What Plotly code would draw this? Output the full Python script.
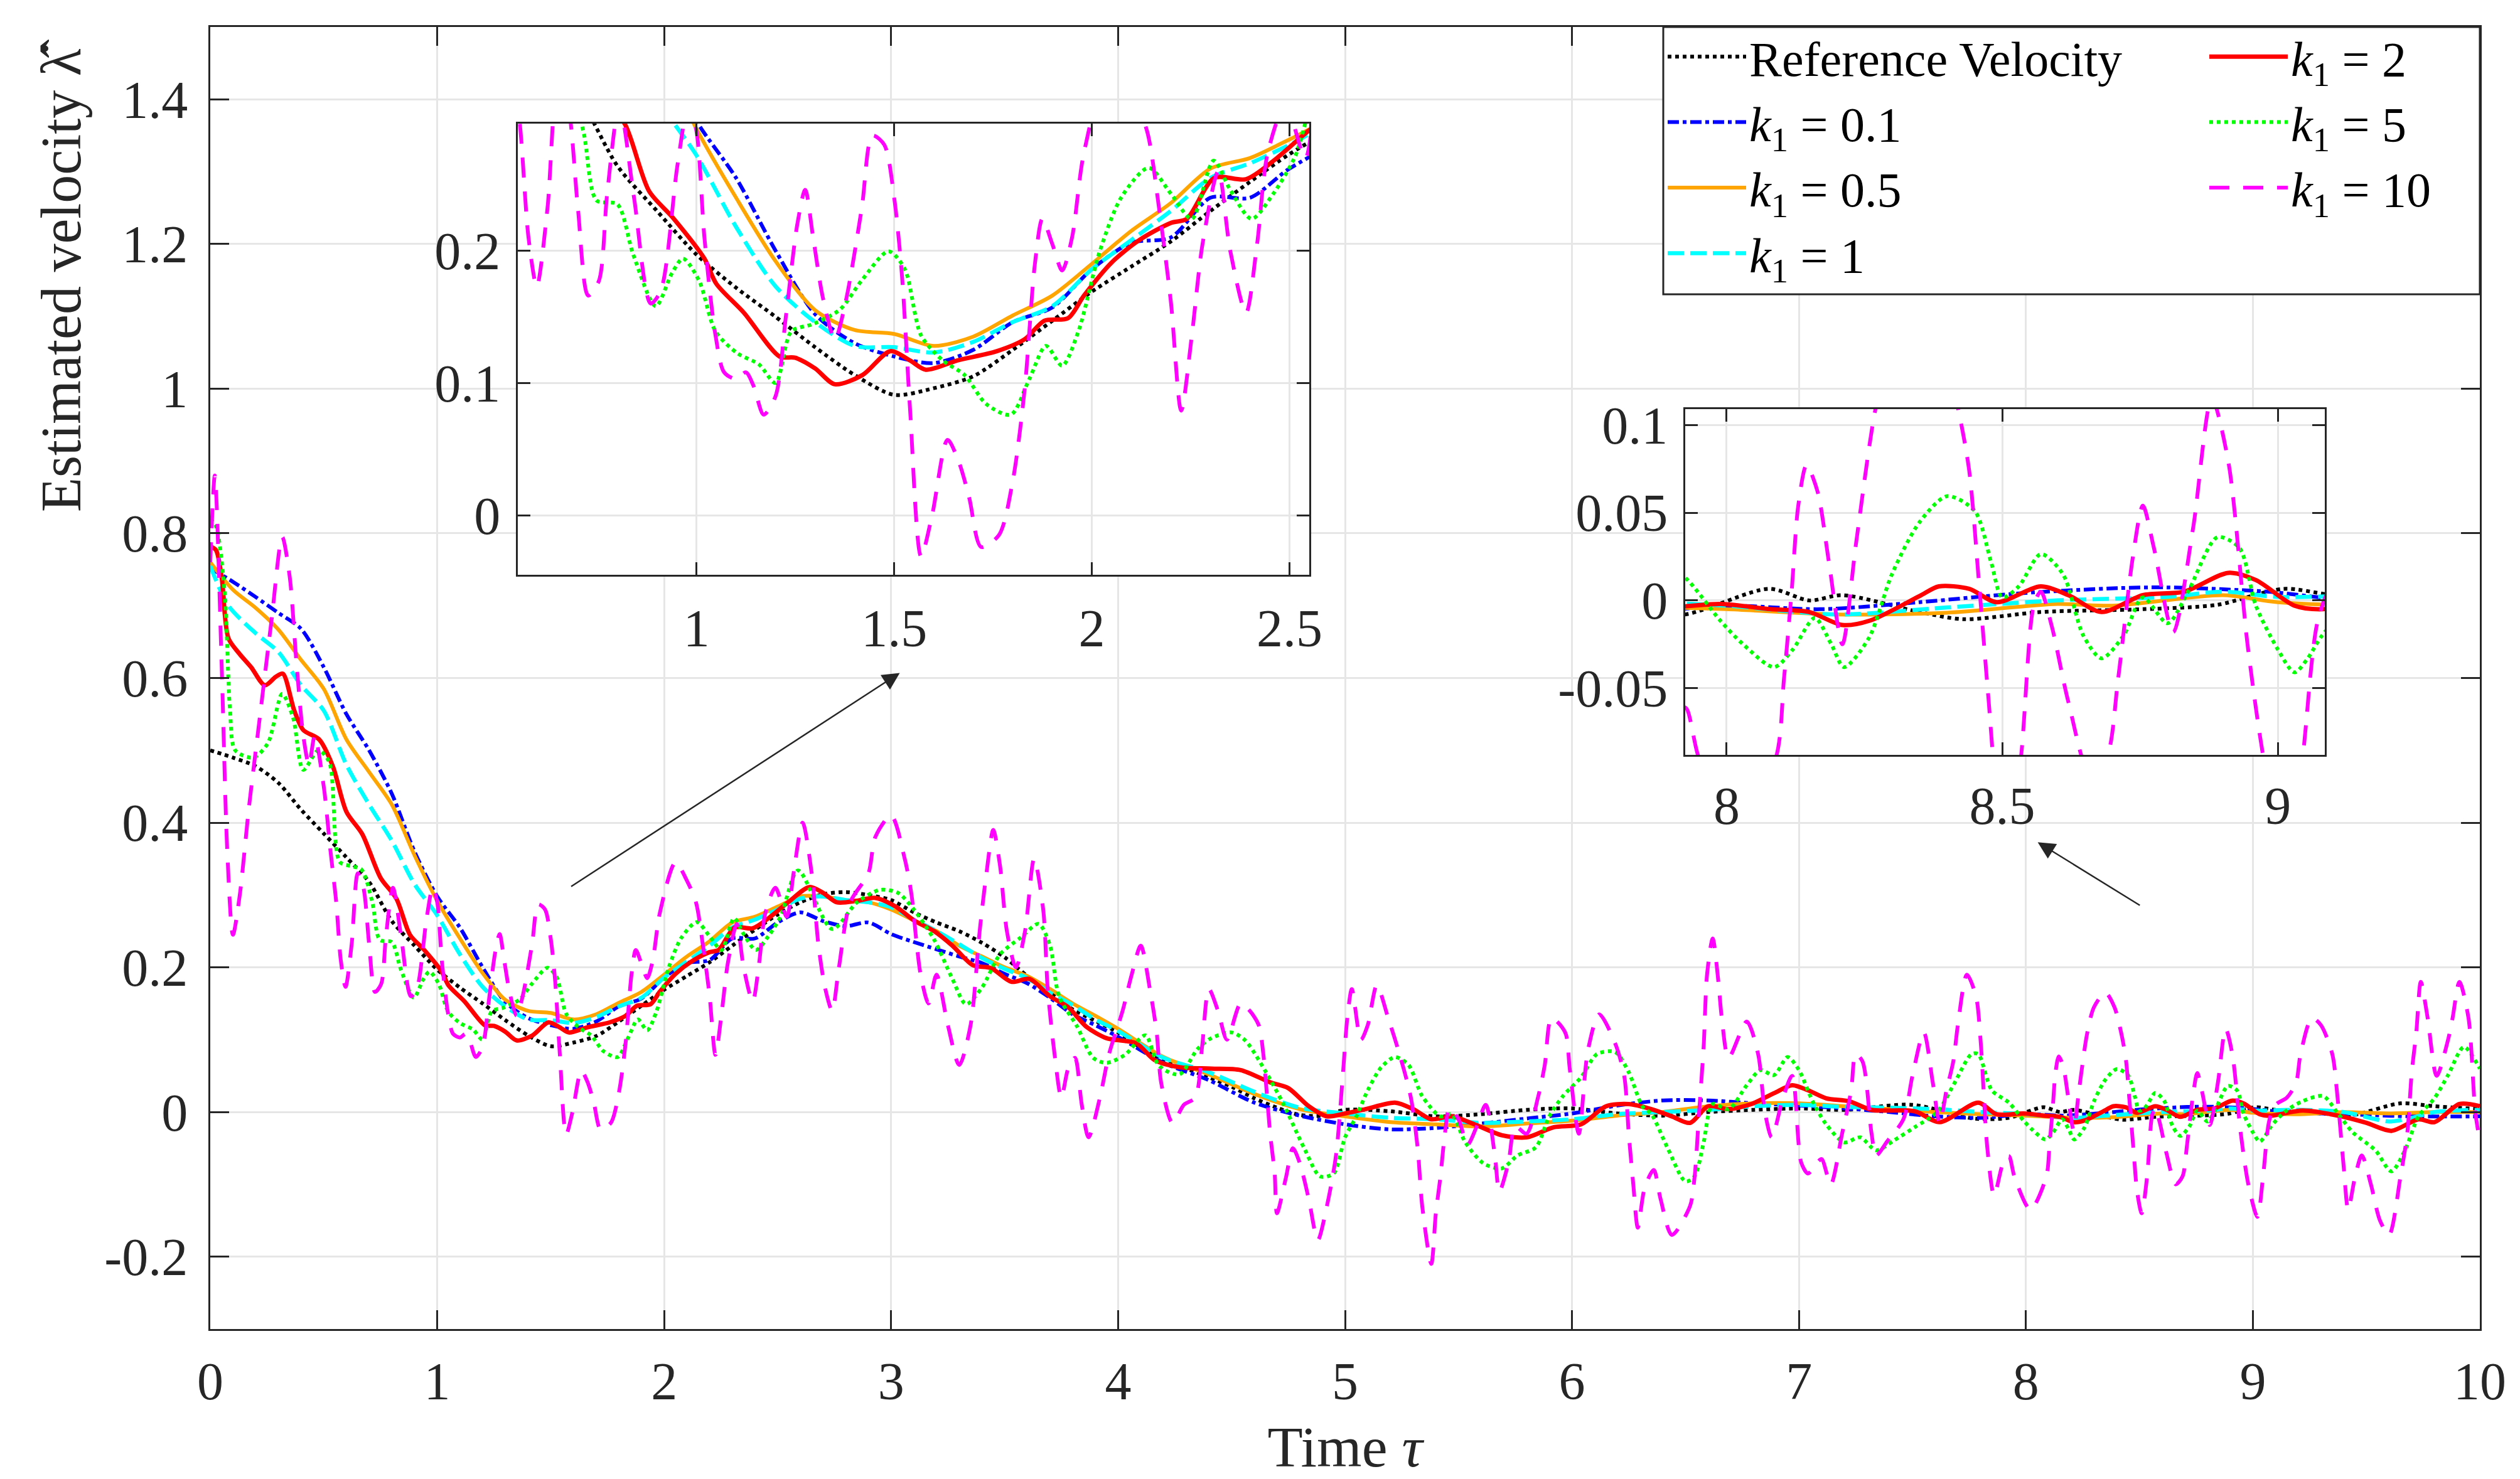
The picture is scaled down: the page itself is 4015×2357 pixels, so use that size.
import plotly.graph_objects as go

# ---------------- data (time, value) ----------------
REF = [(0.0,0.500),(0.1,0.490),(0.2,0.478),(0.3,0.455),(0.4,0.418),(0.5,0.385),(0.6,0.352),(0.7,0.318),
       (0.8,0.264),(0.9,0.230),(1.0,0.197),(1.1,0.172),(1.2,0.150),(1.3,0.127),(1.4,0.106),(1.5,0.091),
       (1.6,0.096),(1.7,0.105),(1.8,0.125),(1.9,0.147),(2.0,0.169),(2.1,0.188),(2.2,0.207),(2.3,0.230),
       (2.4,0.252),(2.5,0.273),(2.6,0.290),(2.7,0.301),(2.8,0.304),(2.9,0.300),(3.0,0.293),(3.1,0.276),
       (3.2,0.262),(3.3,0.250),(3.4,0.234),(3.5,0.214),(3.6,0.188),(3.7,0.165),(3.8,0.142),(3.9,0.126),
       (4.0,0.110),(4.1,0.089),(4.2,0.071),(4.3,0.060),(4.4,0.048),(4.5,0.035),(4.6,0.019),(4.7,0.006),
       (4.8,-0.004),(4.9,-0.005),(5.0,0.003),(5.2,0.001),(5.4,-0.006),(5.6,-0.003),(5.8,0.003),(6.0,0.005),
       (6.2,-0.002),(6.4,-0.005),(6.6,0.000),(6.8,0.003),(7.0,0.005),(7.2,0.003),(7.5,0.010),(7.77,-0.009),
       (7.925,-0.008),(8.077,0.0066),(8.15,0.000),(8.21,0.003),(8.35,-0.0066),(8.43,-0.0107),(8.57,-0.0066),
       (8.755,-0.005),(8.89,-0.0025),(9.01,0.0066),(9.1,0.003),(9.3,-0.002),(9.44,-0.004),(9.65,0.012),
       (9.8,0.008),(10.0,0.004)]

K01 = [(0.0,0.752),(0.1,0.733),(0.2,0.712),(0.3,0.690),(0.4,0.668),(0.5,0.615),(0.6,0.550),(0.7,0.500),
       (0.8,0.440),(0.9,0.360),(1.0,0.298),(1.1,0.255),(1.2,0.200),(1.3,0.152),(1.4,0.130),(1.5,0.120),
       (1.6,0.115),(1.7,0.125),(1.8,0.146),(1.9,0.157),(2.0,0.186),(2.1,0.206),(2.2,0.210),(2.3,0.240),
       (2.4,0.240),(2.5,0.262),(2.6,0.276),(2.7,0.264),(2.8,0.257),(2.9,0.262),(3.0,0.246),(3.1,0.235),
       (3.2,0.225),(3.3,0.215),(3.4,0.206),(3.5,0.191),(3.6,0.178),(3.7,0.158),(3.8,0.135),(3.9,0.120),
       (4.0,0.104),(4.2,0.068),(4.4,0.044),(4.6,0.013),(4.8,-0.005),(5.0,-0.017),(5.2,-0.024),(5.4,-0.022),
       (5.6,-0.016),(5.8,-0.009),(6.0,-0.002),(6.2,0.009),(6.4,0.016),(6.6,0.016),(6.8,0.012),(7.0,0.009),
       (7.2,0.005),(7.4,0.000),(7.6,-0.006),(7.8,-0.008),(8.0,-0.003),(8.17,-0.005),(8.35,-0.001),
       (8.53,0.004),(8.71,0.007),(8.8,0.0074),(8.98,0.005),(9.1,0.001),(9.3,-0.002),(9.5,-0.004),
       (9.7,-0.006),(10.0,-0.006)]

K05 = [(0.0,0.760),(0.1,0.722),(0.2,0.697),(0.3,0.667),(0.4,0.625),(0.5,0.585),(0.6,0.515),(0.7,0.470),
       (0.8,0.425),(0.9,0.355),(1.0,0.292),(1.1,0.240),(1.2,0.192),(1.3,0.155),(1.4,0.140),(1.5,0.137),
       (1.6,0.128),(1.7,0.135),(1.8,0.151),(1.9,0.166),(2.0,0.190),(2.1,0.215),(2.2,0.236),(2.3,0.262),
       (2.4,0.270),(2.5,0.284),(2.6,0.298),(2.7,0.298),(2.8,0.293),(2.9,0.290),(3.0,0.280),(3.1,0.265),
       (3.2,0.250),(3.3,0.230),(3.4,0.215),(3.5,0.200),(3.6,0.188),(3.7,0.170),(3.8,0.150),(3.9,0.133),
       (4.0,0.115),(4.2,0.076),(4.4,0.052),(4.6,0.025),(4.8,0.004),(5.0,-0.006),(5.2,-0.014),(5.4,-0.017),
       (5.6,-0.020),(5.8,-0.016),(6.0,-0.012),(6.2,-0.005),(6.4,0.000),(6.6,0.008),(6.8,0.012),(7.0,0.012),
       (7.2,0.008),(7.4,0.004),(7.6,0.000),(7.8,-0.003),(8.0,-0.005),(8.2,-0.008),(8.4,-0.007),(8.6,-0.002),
       (8.7,-0.003),(8.9,0.003),(9.0,-0.001),(9.2,-0.003),(9.4,0.000),(9.6,-0.002),(9.8,0.000),(10.0,0.000)]

K1 = [(0.0,0.755),(0.08,0.700),(0.2,0.662),(0.3,0.636),(0.4,0.590),(0.5,0.555),(0.6,0.480),(0.7,0.425),
      (0.8,0.375),(0.9,0.315),(1.0,0.272),(1.1,0.218),(1.2,0.173),(1.3,0.146),(1.4,0.128),(1.5,0.127),
      (1.6,0.123),(1.7,0.131),(1.8,0.146),(1.9,0.158),(2.0,0.186),(2.1,0.208),(2.2,0.230),(2.3,0.255),
      (2.4,0.266),(2.5,0.280),(2.6,0.295),(2.7,0.298),(2.8,0.293),(2.9,0.290),(3.0,0.283),(3.1,0.266),
      (3.2,0.250),(3.3,0.232),(3.4,0.213),(3.5,0.198),(3.6,0.185),(3.7,0.165),(3.8,0.148),(3.9,0.128),
      (4.0,0.112),(4.2,0.075),(4.4,0.055),(4.6,0.028),(4.8,0.006),(5.0,-0.002),(5.2,-0.008),(5.4,-0.010),
      (5.6,-0.015),(5.8,-0.013),(6.0,-0.010),(6.2,-0.003),(6.4,0.000),(6.6,0.003),(6.8,0.008),(7.0,0.010),
      (7.2,0.007),(7.4,0.006),(7.6,0.004),(7.8,0.000),(8.0,-0.003),(8.2,-0.008),(8.4,-0.004),(8.6,0.000),
      (8.8,0.002),(8.9,0.005),(9.0,0.002),(9.2,0.003),(9.4,0.000),(9.6,-0.013),(9.7,-0.008),(9.8,0.000),
      (10.0,0.003)]

K2 = [(0.0,0.782),(0.025,0.777),(0.05,0.740),(0.08,0.655),(0.13,0.633),(0.18,0.615),(0.24,0.590),
      (0.29,0.602),(0.32,0.606),(0.37,0.555),(0.41,0.528),(0.48,0.515),(0.54,0.478),(0.6,0.415),
      (0.67,0.384),(0.75,0.324),(0.82,0.295),(0.88,0.245),(0.94,0.225),(1.02,0.194),(1.05,0.175),
      (1.12,0.153),(1.21,0.120),(1.25,0.119),(1.3,0.111),(1.35,0.099),(1.42,0.106),(1.49,0.124),
      (1.54,0.117),(1.58,0.110),(1.66,0.117),(1.76,0.124),(1.83,0.133),(1.88,0.147),(1.94,0.149),
      (1.98,0.166),(2.05,0.191),(2.12,0.208),(2.2,0.221),(2.24,0.224),(2.31,0.255),(2.39,0.254),
      (2.46,0.268),(2.55,0.291),(2.64,0.311),(2.7,0.303),(2.76,0.290),(2.85,0.292),(2.93,0.296),
      (3.02,0.284),(3.1,0.265),(3.19,0.250),(3.27,0.230),(3.36,0.203),(3.44,0.199),(3.53,0.180),
      (3.61,0.184),(3.7,0.160),(3.78,0.145),(3.86,0.118),(3.95,0.102),(4.08,0.095),(4.16,0.072),
      (4.27,0.062),(4.41,0.060),(4.54,0.058),(4.67,0.041),(4.75,0.033),(4.84,0.008),(4.92,-0.006),
      (5.0,-0.002),(5.09,0.004),(5.22,0.013),(5.3,0.004),(5.38,-0.010),(5.47,-0.006),(5.57,-0.017),
      (5.69,-0.032),(5.8,-0.035),(5.92,-0.021),(6.04,-0.017),(6.15,0.008),(6.25,0.011),(6.35,0.004),
      (6.44,-0.006),(6.52,-0.015),(6.6,0.008),(6.69,0.004),(6.79,0.011),(6.89,0.026),(6.97,0.037),
      (7.04,0.030),(7.12,0.019),(7.22,0.015),(7.32,0.003),(7.51,0.001),(7.62,-0.014),(7.79,0.013),
      (7.87,-0.003),(7.99,-0.002),(8.08,-0.005),(8.15,-0.0066),(8.21,-0.014),(8.26,-0.0115),(8.35,0.0025),
      (8.385,0.008),(8.44,0.0066),(8.49,-0.001),(8.57,0.008),(8.62,0.003),(8.68,-0.0066),(8.755,0.003),
      (8.83,0.005),(8.91,0.0157),(8.96,0.0116),(9.03,-0.003),(9.08,-0.005),(9.22,0.002),(9.39,-0.006),
      (9.5,-0.015),(9.61,-0.026),(9.73,-0.010),(9.8,-0.014),(9.91,0.011),(10.0,0.008)]

K5 = [(0.0,0.820),(0.025,0.810),(0.063,0.720),(0.087,0.556),(0.11,0.500),(0.19,0.490),(0.254,0.510),
      (0.317,0.578),(0.365,0.545),(0.41,0.473),(0.476,0.500),(0.524,0.484),(0.57,0.346),(0.62,0.340),
      (0.667,0.335),(0.714,0.290),(0.747,0.238),(0.8,0.235),(0.84,0.197),(0.897,0.158),(0.938,0.183),
      (0.966,0.194),(1.007,0.177),(1.048,0.139),(1.103,0.1225),(1.158,0.114),(1.2,0.100),(1.24,0.139),
      (1.295,0.1445),(1.363,0.1555),(1.418,0.1775),(1.486,0.1995),(1.527,0.186),(1.568,0.136),
      (1.623,0.117),(1.678,0.106),(1.733,0.084),(1.795,0.076),(1.842,0.103),(1.884,0.128),(1.925,0.113),
      (1.966,0.139),(2.02,0.1995),(2.075,0.2405),(2.144,0.2626),(2.2,0.243),(2.253,0.224),(2.308,0.268),
      (2.35,0.246),(2.404,0.224),(2.459,0.243),(2.514,0.271),(2.59,0.334),(2.74,0.253),(2.85,0.290),
      (2.95,0.307),(3.03,0.303),(3.1,0.280),(3.19,0.238),(3.27,0.184),(3.33,0.149),(3.4,0.172),
      (3.48,0.218),(3.57,0.241),(3.65,0.260),(3.7,0.230),(3.74,0.160),(3.82,0.118),(3.89,0.075),
      (3.95,0.068),(4.03,0.079),(4.12,0.106),(4.18,0.064),(4.27,0.052),(4.35,0.087),(4.41,0.102),
      (4.5,0.110),(4.56,0.099),(4.65,0.056),(4.73,0.010),(4.82,-0.050),(4.89,-0.089),(4.95,-0.085),
      (5.0,-0.035),(5.05,-0.006),(5.1,0.030),(5.16,0.062),(5.22,0.076),(5.28,0.065),(5.34,0.022),
      (5.42,-0.006),(5.47,-0.003),(5.53,-0.042),(5.61,-0.071),(5.69,-0.078),(5.76,-0.060),(5.84,-0.049),
      (5.9,-0.006),(5.96,0.022),(6.04,0.048),(6.11,0.080),(6.19,0.083),(6.25,0.055),(6.31,0.008),
      (6.35,-0.003),(6.42,-0.049),(6.5,-0.096),(6.54,-0.089),(6.58,-0.042),(6.62,0.011),(6.69,0.004),
      (6.77,0.037),(6.83,0.058),(6.89,0.051),(6.95,0.076),(7.0,0.058),(7.06,0.015),(7.12,-0.017),
      (7.2,-0.042),(7.27,-0.035),(7.34,-0.053),(7.42,-0.039),(7.51,-0.021),(7.61,0.000),(7.68,0.037),
      (7.76,0.080),(7.79,0.080),(7.85,0.030),(7.925,0.013),(7.99,-0.012),(8.03,-0.025),(8.086,-0.038),
      (8.12,-0.028),(8.16,-0.010),(8.19,-0.025),(8.213,-0.038),(8.258,-0.0215),(8.3,0.015),(8.35,0.0446),
      (8.4,0.0594),(8.45,0.051),(8.48,0.0215),(8.5,0.0017),(8.53,0.008),(8.57,0.0264),(8.61,0.015),
      (8.647,-0.020),(8.68,-0.033),(8.72,-0.020),(8.755,0.0017),(8.8,-0.013),(8.837,0.005),(8.89,0.036),
      (8.93,0.030),(8.96,-0.003),(9.0,-0.028),(9.03,-0.041),(9.054,-0.033),(9.08,-0.020),(9.14,0.000),
      (9.22,0.015),(9.31,0.022),(9.37,0.000),(9.44,-0.028),(9.54,-0.053),(9.61,-0.082),(9.67,-0.053),
      (9.73,-0.006),(9.8,0.019),(9.86,0.051),(9.93,0.090),(10.0,0.060)]

K10 = [(0.0,0.76),(0.02,0.88),(0.05,0.62),(0.075,0.36),(0.1,0.245),(0.13,0.30),(0.17,0.42),(0.22,0.55),
       (0.27,0.68),(0.317,0.795),(0.35,0.74),(0.38,0.62),(0.41,0.52),(0.435,0.48),(0.46,0.52),(0.5,0.45),
       (0.53,0.36),(0.555,0.29),(0.575,0.21),(0.596,0.173),(0.623,0.232),(0.65,0.33),(0.675,0.31),
       (0.7,0.232),(0.726,0.166),(0.753,0.177),(0.774,0.243),(0.805,0.31),(0.842,0.24),(0.884,0.16),
       (0.91,0.17),(0.952,0.265),(0.98,0.31),(1.0,0.29),(1.02,0.21),(1.048,0.136),(1.07,0.108),(1.1,0.103),
       (1.125,0.108),(1.144,0.098),(1.17,0.076),(1.2,0.09),(1.226,0.15),(1.255,0.22),(1.275,0.246),
       (1.295,0.21),(1.32,0.164),(1.35,0.133),(1.377,0.161),(1.418,0.232),(1.445,0.287),(1.475,0.28),
       (1.5,0.24),(1.52,0.18),(1.54,0.081),(1.568,-0.031),(1.596,0.0),(1.635,0.057),(1.664,0.04),
       (1.69,0.013),(1.72,-0.024),(1.765,-0.015),(1.8,0.026),(1.83,0.095),(1.856,0.19),(1.875,0.224),
       (1.9,0.205),(1.925,0.185),(1.95,0.21),(1.98,0.274),(2.05,0.345),(2.1,0.32),(2.14,0.29),(2.17,0.232),
       (2.2,0.161),(2.226,0.079),(2.253,0.136),(2.28,0.205),(2.32,0.26),(2.35,0.2),(2.39,0.153),
       (2.418,0.205),(2.445,0.274),(2.49,0.31),(2.54,0.27),(2.57,0.33),(2.61,0.40),(2.65,0.33),(2.68,0.23),
       (2.71,0.17),(2.74,0.14),(2.77,0.2),(2.82,0.29),(2.9,0.33),(2.93,0.38),(3.0,0.41),(3.06,0.35),
       (3.09,0.30),(3.11,0.24),(3.13,0.19),(3.165,0.15),(3.2,0.19),(3.25,0.12),(3.3,0.065),(3.35,0.12),
       (3.39,0.25),(3.42,0.33),(3.45,0.39),(3.48,0.34),(3.51,0.25),(3.55,0.20),(3.59,0.25),(3.63,0.35),
       (3.67,0.28),(3.69,0.17),(3.72,0.08),(3.75,0.02),(3.78,0.06),(3.81,0.075),(3.84,0.01),(3.87,-0.035),
       (3.92,0.02),(3.96,0.08),(4.02,0.14),(4.06,0.19),(4.1,0.23),(4.14,0.17),(4.17,0.11),(4.19,0.04),
       (4.24,-0.015),(4.29,0.01),(4.34,0.02),(4.37,0.09),(4.4,0.17),(4.44,0.14),(4.48,0.10),(4.54,0.15),
       (4.58,0.14),(4.62,0.12),(4.64,0.08),(4.67,-0.03),(4.69,-0.085),(4.70,-0.14),(4.74,-0.09),
       (4.77,-0.05),(4.8,-0.07),(4.84,-0.12),(4.88,-0.177),(4.92,-0.13),(4.96,-0.06),(4.99,0.05),
       (5.01,0.13),(5.03,0.17),(5.07,0.10),(5.1,0.12),(5.14,0.175),(5.19,0.13),(5.24,0.08),(5.29,0.02),
       (5.32,-0.05),(5.34,-0.13),(5.38,-0.21),(5.4,-0.14),(5.42,-0.09),(5.44,-0.03),(5.46,0.005),
       (5.5,-0.01),(5.54,-0.045),(5.58,-0.02),(5.62,0.01),(5.66,-0.06),(5.68,-0.11),(5.72,-0.07),
       (5.75,-0.02),(5.8,-0.03),(5.85,0.02),(5.88,0.065),(5.91,0.13),(5.97,0.11),(5.99,0.06),(6.03,-0.03),
       (6.07,0.085),(6.12,0.135),(6.19,0.095),(6.23,0.05),(6.25,-0.03),(6.27,-0.10),(6.29,-0.16),
       (6.32,-0.105),(6.36,-0.08),(6.39,-0.12),(6.44,-0.17),(6.52,-0.13),(6.54,-0.09),(6.56,0.0),
       (6.58,0.09),(6.595,0.19),(6.62,0.24),(6.645,0.18),(6.66,0.13),(6.69,0.075),(6.77,0.125),(6.82,0.08),
       (6.85,0.0),(6.88,-0.035),(6.93,0.02),(6.97,0.05),(7.01,-0.07),(7.04,-0.085),(7.08,-0.07),
       (7.1,-0.065),(7.14,-0.10),(7.19,-0.03),(7.23,0.03),(7.25,0.08),(7.28,0.07),(7.32,-0.03),
       (7.34,-0.06),(7.39,-0.04),(7.46,-0.01),(7.5,0.05),(7.55,0.11),(7.59,0.04),(7.62,-0.015),(7.65,0.03),
       (7.68,0.07),(7.7,0.12),(7.74,0.19),(7.78,0.16),(7.8,0.10),(7.83,-0.05),(7.86,-0.115),(7.9,-0.07),
       (7.925,-0.061),(7.95,-0.09),(8.02,-0.135),(8.09,-0.089),(8.104,-0.045),(8.118,0.005),(8.13,0.054),
       (8.145,0.077),(8.165,0.062),(8.186,0.021),(8.21,-0.025),(8.235,0.033),(8.27,0.109),(8.3,0.145),
       (8.35,0.165),(8.39,0.145),(8.42,0.109),(8.44,0.074),(8.457,0.013),(8.475,-0.056),(8.49,-0.11),
       (8.51,-0.14),(8.534,-0.089),(8.557,-0.003),(8.57,0.005),(8.59,-0.015),(8.62,-0.058),(8.66,-0.10),
       (8.69,-0.089),(8.71,-0.045),(8.737,0.025),(8.755,0.054),(8.775,0.03),(8.81,-0.018),(8.846,0.041),
       (8.88,0.115),(8.91,0.079),(8.946,-0.028),(8.98,-0.10),(9.02,-0.145),(9.045,-0.089),(9.072,-0.012),
       (9.1,0.01),(9.15,0.02),(9.19,0.04),(9.21,0.08),(9.26,0.13),(9.3,0.12),(9.35,0.08),(9.37,0.03),
       (9.4,-0.075),(9.42,-0.135),(9.45,-0.09),(9.48,-0.06),(9.52,-0.10),(9.56,-0.15),(9.6,-0.17),
       (9.65,-0.09),(9.68,-0.03),(9.7,0.055),(9.72,0.11),(9.74,0.18),(9.77,0.13),(9.81,0.05),(9.86,0.10),
       (9.88,0.13),(9.91,0.18),(9.95,0.13),(9.98,0.0),(10.0,-0.04)]

SERIES_NAMES = ["Reference Velocity", "<i>k</i><sub>1</sub> = 0.1", "<i>k</i><sub>1</sub> = 0.5",
                "<i>k</i><sub>1</sub> = 1", "<i>k</i><sub>1</sub> = 2", "<i>k</i><sub>1</sub> = 5",
                "<i>k</i><sub>1</sub> = 10"]
SERIES_DATA = [REF, K01, K05, K1, K2, K5, K10]

MAIN_X_TICKS = [0, 1, 2, 3, 4, 5, 6, 7, 8, 9, 10]
MAIN_X_LABELS = ["0", "1", "2", "3", "4", "5", "6", "7", "8", "9", "10"]
MAIN_Y_TICKS = [-0.2, 0, 0.2, 0.4, 0.6, 0.8, 1.0, 1.2, 1.4]
MAIN_Y_LABELS = ["-0.2", "0", "0.2", "0.4", "0.6", "0.8", "1", "1.2", "1.4"]
IN1_X_TICKS = [1, 1.5, 2, 2.5]
IN1_X_LABELS = ["1", "1.5", "2", "2.5"]
IN1_Y_TICKS = [0, 0.1, 0.2]
IN1_Y_LABELS = ["0", "0.1", "0.2"]
IN2_X_TICKS = [8, 8.5, 9]
IN2_X_LABELS = ["8", "8.5", "9"]
IN2_Y_TICKS = [-0.05, 0, 0.05, 0.1]
IN2_Y_LABELS = ["-0.05", "0", "0.05", "0.1"]

# zoom arrows: (tail_x, tail_y, head_x, head_y) in main-axis data units
ARROWS = [(1.586, 0.311, 3.038, 0.607), (8.506, 0.285, 8.052, 0.373)]

# ---------------- styles ----------------
FONT = "Liberation Serif, Times New Roman, serif"
STYLES = [
    dict(color="#000000", width=6, dash="dot"),
    dict(color="#0000FF", width=6, dash="dashdot"),
    dict(color="#FFA500", width=6, dash="solid"),
    dict(color="#00FFFF", width=6.5, dash="26px,10px"),
    dict(color="#FF0000", width=7, dash="solid"),
    dict(color="#00FF00", width=6, dash="dot"),
    dict(color="#FF00FF", width=6, dash="32px,22px"),
]
LEGEND_OF = ["legend", "legend", "legend", "legend", "legend2", "legend2", "legend2"]

fig = go.Figure()
subplots = [("x", "y"), ("x2", "y2"), ("x3", "y3")]
for si, (xa, ya) in enumerate(subplots):
    for name, data, st, lg in zip(SERIES_NAMES, SERIES_DATA, STYLES, LEGEND_OF):
        t = [p[0] for p in data]
        v = [p[1] for p in data]
        fig.add_trace(go.Scatter(
            x=t, y=v, mode="lines", name=name, xaxis=xa, yaxis=ya,
            line=dict(color=st["color"], width=st["width"], dash=st["dash"], shape="spline", smoothing=0.8),
            showlegend=(si == 0), legend=lg, hoverinfo="skip"))

AXCOL = "#262626"
def ax_common(ticklen):
    return dict(showline=True, linecolor=AXCOL, linewidth=3, mirror="ticks", ticks="inside",
                ticklen=ticklen, tickwidth=3, tickcolor=AXCOL, showgrid=True, gridcolor="#E6E6E6",
                gridwidth=3, zeroline=False, tickmode="array", automargin=False,
                tickfont=dict(family=FONT, size=84, color=AXCOL))

L, R, T, B = 335, 64, 43, 239
W, H = 4015, 2357
PW, PH = W - L - R, H - T - B
def dom_x(a, b):
    return [(a - L) / PW, (b - L) / PW]
def dom_y(top, bottom):
    return [(H - B - bottom) / PH, (H - B - top) / PH]

LEG_FONT = dict(family=FONT, size=78, color="black")
fig.update_layout(
    width=W, height=H, margin=dict(l=L, r=R, t=T, b=B, pad=0, autoexpand=False),
    paper_bgcolor="white", plot_bgcolor="white",
    font=dict(family=FONT, size=80, color="black"),
    xaxis=dict(**ax_common(30), range=[0, 10], tickvals=MAIN_X_TICKS, ticktext=MAIN_X_LABELS,
               ticklabelstandoff=8, domain=[0, 1],
               title=dict(text="Time <i>τ</i>", font=dict(family=FONT, size=92, color=AXCOL), standoff=80)),
    yaxis=dict(**ax_common(30), range=[-0.3, 1.5], tickvals=MAIN_Y_TICKS, ticktext=MAIN_Y_LABELS,
               ticklabelstandoff=16, domain=[0, 1]),
    xaxis2=dict(**ax_common(20), range=[0.548, 2.55], tickvals=IN1_X_TICKS, ticktext=IN1_X_LABELS,
                ticklabelstandoff=10, domain=dom_x(825, 2086), anchor="y2"),
    yaxis2=dict(**ax_common(20), range=[-0.045, 0.296], tickvals=IN1_Y_TICKS, ticktext=IN1_Y_LABELS,
                ticklabelstandoff=8, domain=dom_y(197, 916), anchor="x2"),
    xaxis3=dict(**ax_common(20), range=[7.925, 9.085], tickvals=IN2_X_TICKS, ticktext=IN2_X_LABELS,
                ticklabelstandoff=6, domain=dom_x(2685, 3704), anchor="y3"),
    yaxis3=dict(**ax_common(20), range=[-0.088, 0.109], tickvals=IN2_Y_TICKS, ticktext=IN2_Y_LABELS,
                ticklabelstandoff=8, domain=dom_y(652, 1203), anchor="x3"),
    legend=dict(x=(2652 - L) / PW, y=1.0 + 10 / PH, xanchor="left", yanchor="top",
                bgcolor="rgba(0,0,0,0)", borderwidth=0, itemwidth=125, tracegroupgap=0,
                traceorder="normal", font=LEG_FONT),
    legend2=dict(x=(3515 - L) / PW, y=1.0 + 10 / PH, xanchor="left", yanchor="top",
                 bgcolor="rgba(0,0,0,0)", borderwidth=0, itemwidth=125, tracegroupgap=0,
                 traceorder="normal", font=LEG_FONT),
    showlegend=True,
)

# legend frame
fig.add_shape(type="rect", xref="paper", yref="paper", x0=(2650 - L) / PW, x1=1.0,
              y0=(H - B - 469) / PH, y1=1.0, line=dict(color=AXCOL, width=3),
              fillcolor="white", layer="above")

# y-axis label (placed as in the reference, near the top)
fig.add_annotation(xref="paper", yref="paper", x=(97 - L) / PW, y=(H - B - 440) / PH,
                   text="Estimated velocity λ̂̇", textangle=-90, showarrow=False,
                   font=dict(family=FONT, size=90, color=AXCOL), xanchor="center", yanchor="middle")

for tx, ty, hx, hy in ARROWS:
    fig.add_annotation(xref="x", yref="y", axref="x", ayref="y", x=hx, y=hy, ax=tx, ay=ty,
                       text="", showarrow=True, arrowhead=2, arrowsize=2.2, arrowwidth=2.5,
                       arrowcolor=AXCOL)

fig.write_html("out.html", config={"displayModeBar": False},
               post_script="document.body.style.margin='0px';")
